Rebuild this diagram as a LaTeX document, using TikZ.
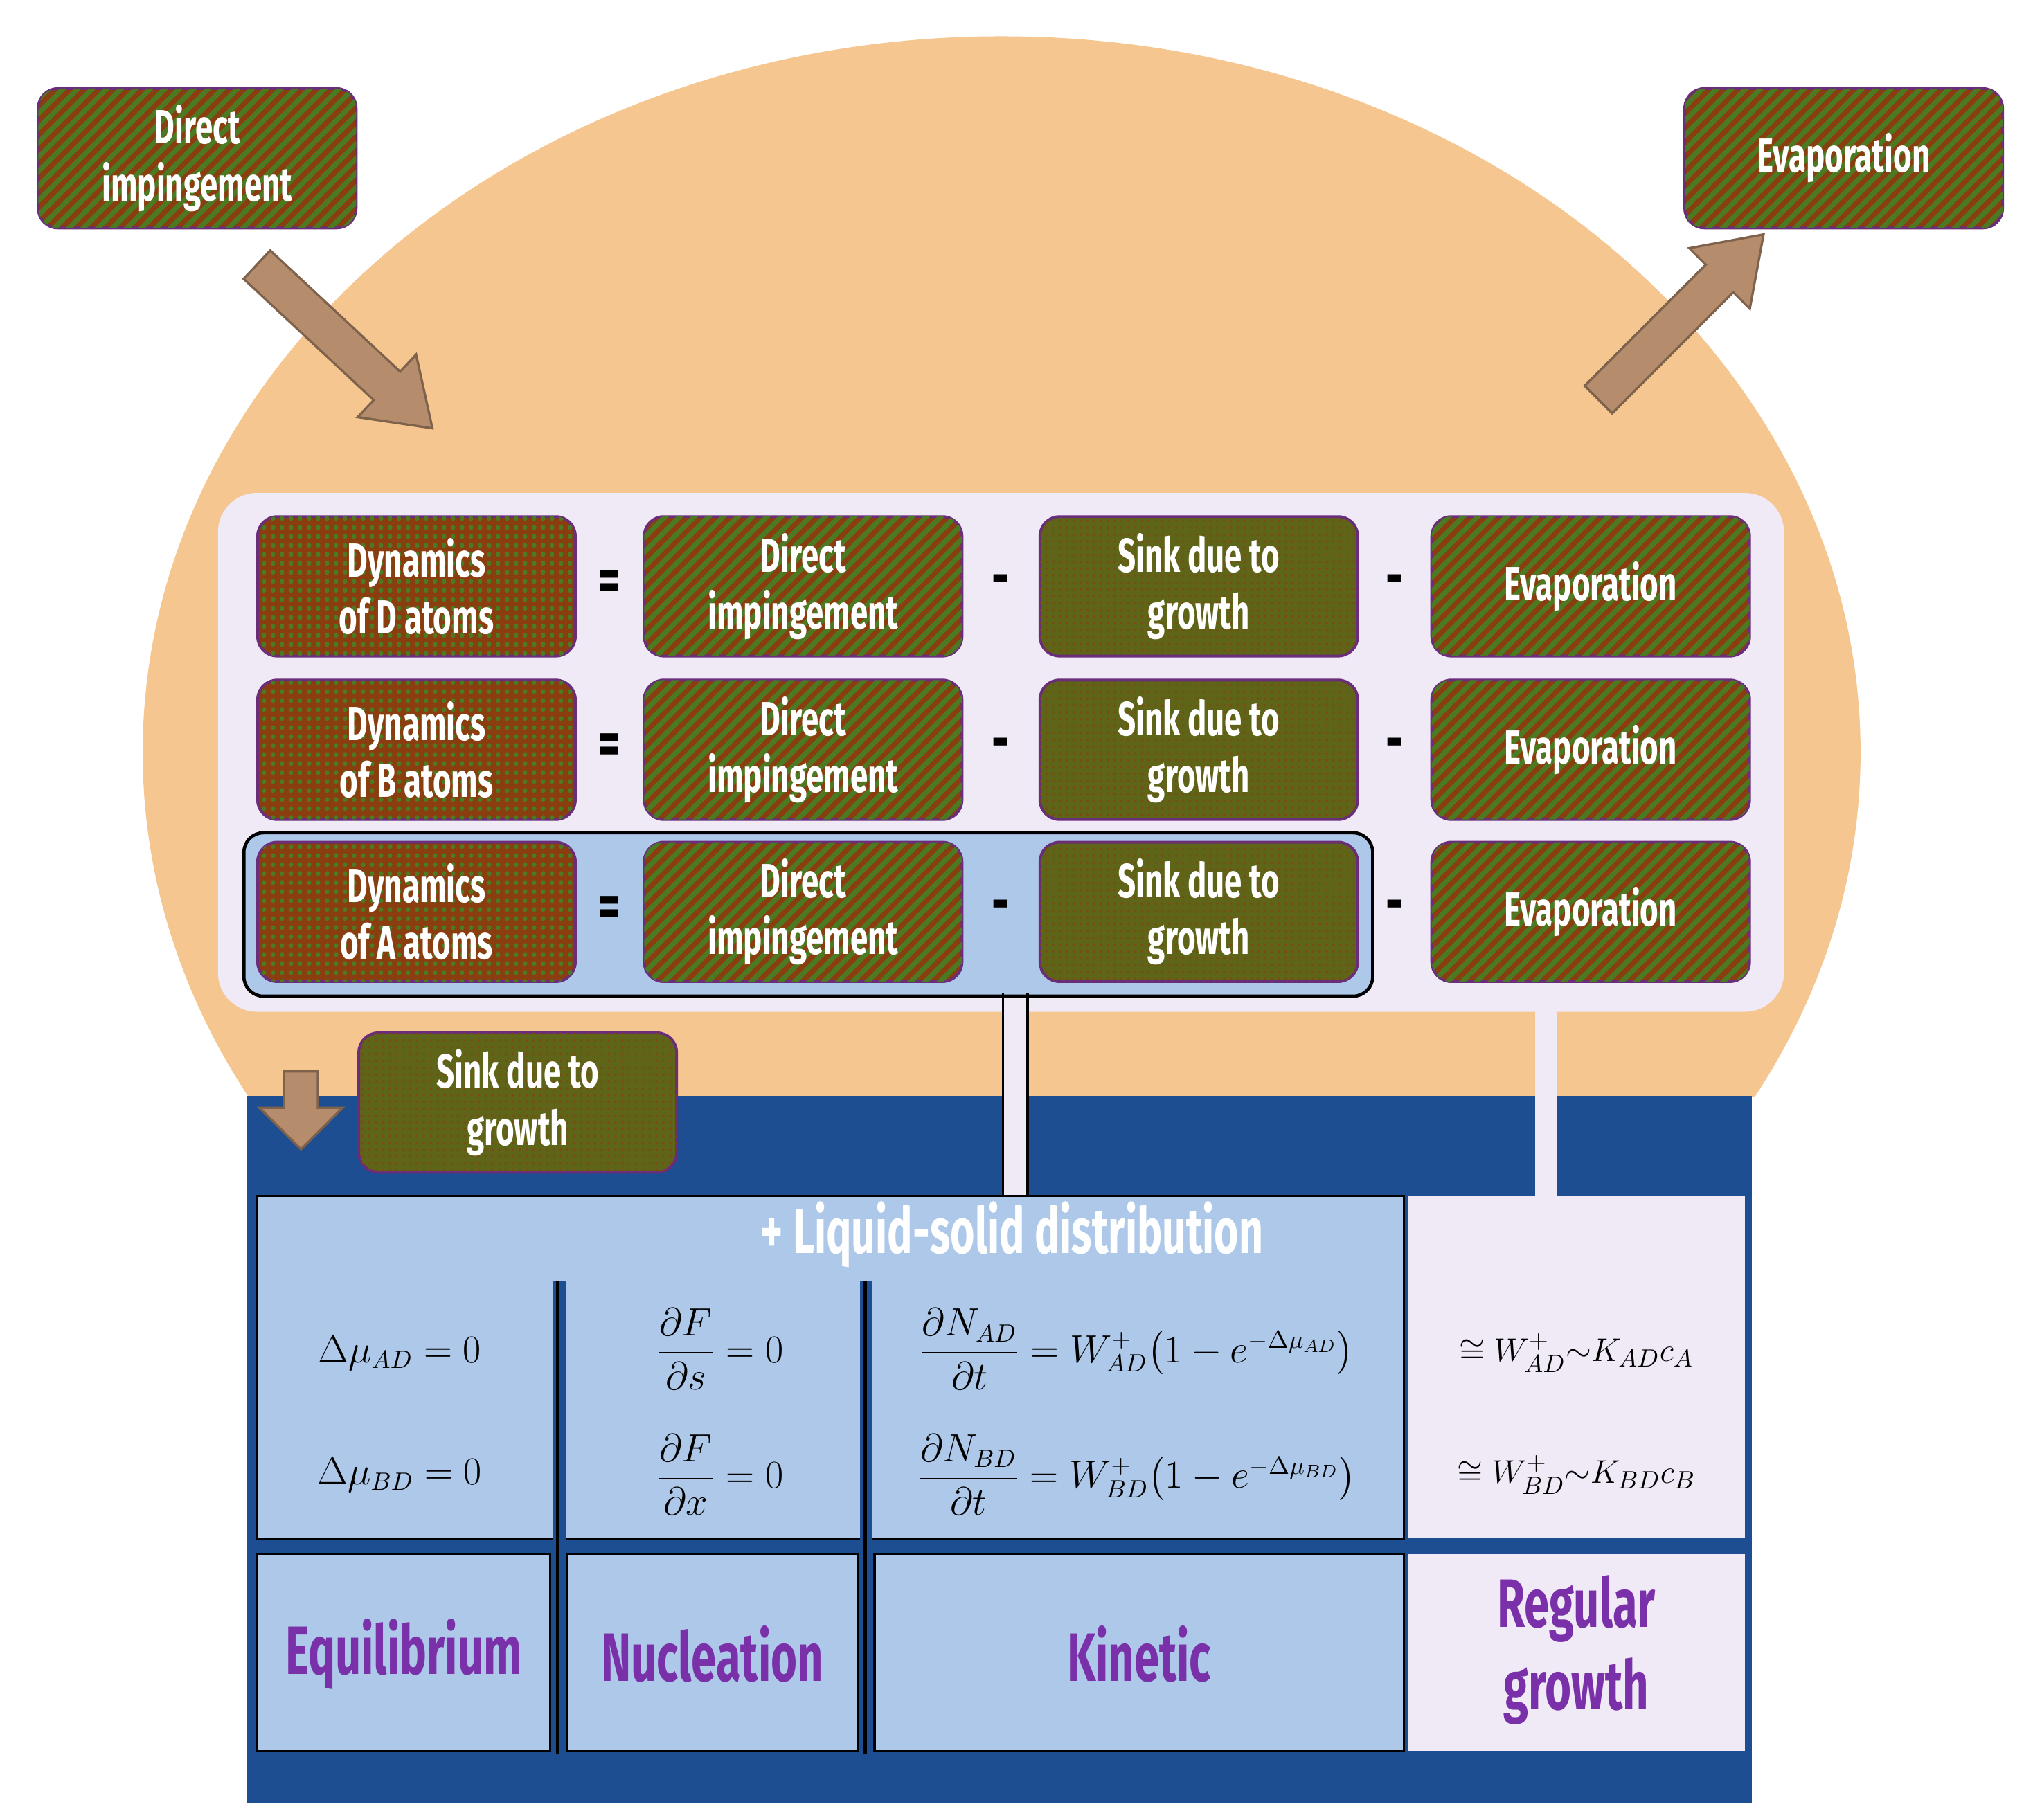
\documentclass[tikz,border=0pt]{standalone}
\usepackage{fontspec}
\usepackage{amsmath,amssymb}
\newfontfamily\cond{Fira Sans}[FakeStretch=0.66]
\usetikzlibrary{patterns.meta}
\definecolor{orng}{HTML}{F5C690}
\definecolor{lav}{HTML}{F0E9F6}
\definecolor{lblue}{HTML}{ADC8E8}
\definecolor{dblue}{HTML}{1D4E91}
\definecolor{brn}{HTML}{8A3E10}
\definecolor{grn}{HTML}{4C7A22}
\definecolor{olive}{HTML}{5E6518}
\definecolor{pur}{HTML}{6A2D7A}
\definecolor{tan}{HTML}{B58C6C}
\definecolor{txtpur}{HTML}{7A30A8}
\tikzset{
 bx/.style={rounded corners=0.3cm, draw=pur, line width=1.2pt, minimum width=4.9cm, minimum height=2.15cm, align=center, text=white, font=\cond\bfseries\fontsize{21}{25}\selectfont},
 hatch/.style={bx, fill=brn, postaction={pattern={Lines[angle=45,distance=4.5pt,line width=2.2pt]}, pattern color=grn}},
 dotty/.style={bx, fill=brn, postaction={pattern={Dots[distance=4pt,radius=1.1pt]}, pattern color=grn}},
 sinkb/.style={bx, fill=olive, postaction={pattern={Dots[distance=3pt,radius=0.6pt]}, pattern color=brn!70!olive}},
 op/.style={font=\cond\bfseries\fontsize{28}{30}\selectfont},
 bigarrow/.style={draw=tan!70!black, fill=tan, line width=1pt},
 lbl/.style={text=txtpur, font=\cond\bfseries\fontsize{30}{36}\selectfont, align=center},
 eq/.style={font=\fontsize{16}{19}\selectfont}
}
\begin{document}
\begin{tikzpicture}[x=0.02cm,y=-0.02cm]
\useasboundingbox (0,0) rectangle (1560,1403);
\fill[white] (0,0) rectangle (1560,1403);
\begin{scope}
\clip (0,0) rectangle (1560,845);
\fill[orng] (772,580) ellipse [x radius=662, y radius=552];
\end{scope}
\fill[dblue] (190,845) rectangle (1350,1390);
\fill[lav, rounded corners=0.6cm] (168,380) rectangle (1375,780);
\draw[black, fill=lblue, line width=1.4pt, rounded corners=0.3cm] (188,642) rectangle (1058,768);
\fill[lav] (1183,778) rectangle (1200,924);
\fill[lav] (774,769) rectangle (791,921);
\draw[line width=1pt] (773,766) -- (773,922) (792,766) -- (792,922);
\fill[lblue] (198,922) rectangle (1082,1186);
\fill[lav] (1085,922) rectangle (1345,1186);
\draw[line width=1pt] (198,1186) -- (198,922) -- (1082,922) -- (1082,1186) -- cycle;
\fill[dblue] (426,988) rectangle (436,1352);
\fill[dblue] (663,988) rectangle (672,1352);
\draw[line width=1.5pt] (430,988) -- (430,1352) (667,988) -- (667,1352);
\fill[lblue] (198,1198) rectangle (424,1350);
\fill[lblue] (437,1198) rectangle (661,1350);
\fill[lblue] (674,1198) rectangle (1082,1350);
\fill[lav] (1085,1198) rectangle (1345,1350);
\draw[line width=1pt] (198,1198) rectangle (424,1350) (437,1198) rectangle (661,1350) (674,1198) rectangle (1082,1350);
\node[text=white, font=\cond\bfseries\fontsize{28}{30}\selectfont] (hdr) at (780,952) {+ Liquid-solid distribution};
\node[eq] (e1) at (308,1043) {$\Delta\mu_{AD}=0$};
\node[eq] (e2) at (308,1137) {$\Delta\mu_{BD}=0$};
\node[eq] (e3) at (555,1040) {$\dfrac{\partial F}{\partial s}=0$};
\node[eq] (e4) at (555,1137) {$\dfrac{\partial F}{\partial x}=0$};
\node[eq] (e5) at (876,1040) {$\dfrac{\partial N_{AD}}{\partial t}=W_{AD}^{+}\bigl(1-e^{-\Delta\mu_{AD}}\bigr)$};
\node[eq] (e6) at (876,1137) {$\dfrac{\partial N_{BD}}{\partial t}=W_{BD}^{+}\bigl(1-e^{-\Delta\mu_{BD}}\bigr)$};
\node[eq, font=\fontsize{15}{18}\selectfont] (e7) at (1215,1043) {$\cong W_{AD}^{+}{\sim}K_{AD}c_A$};
\node[eq, font=\fontsize{15}{18}\selectfont] (e8) at (1215,1137) {$\cong W_{BD}^{+}{\sim}K_{BD}c_B$};
\node[lbl] (l1) at (311,1275) {Equilibrium};
\node[lbl] (l2) at (549,1275) {Nucleation};
\node[lbl] (l3) at (878,1275) {Kinetic};
\node[lbl] (l4) at (1215,1272) {Regular\\growth};
\foreach \r/\y/\L in {d/452/D, b/578/B, a/703/A}{
 \node[dotty] (dyn\r) at (321,\y) {Dynamics\\of \L{} atoms};
 \node[hatch] (di\r) at (619,\y) {Direct\\impingement};
 \node[sinkb] (sk\r) at (924,\y) {Sink due to\\growth};
 \node[hatch] (ev\r) at (1226,\y) {Evaporation};
 \node[op] (eq\r) at (470,\y) {=};
 \node[op] (m1\r) at (771,\y) {-};
 \node[op] (m2\r) at (1075,\y) {-};
}
\node[hatch] (tdi) at (152,122) {Direct\\impingement};
\node[hatch] (tev) at (1421,122) {Evaporation};
\node[sinkb] (bsk) at (399,850) {Sink due to\\growth};
% arrows: polygon along +x, then rotated
\def\bigarr#1#2#3#4#5{% x,y,angle,length,shaft half
 \begin{scope}[shift={(#1,#2)}, rotate=#3]
 \draw[bigarrow] (0,-#5) -- (#4-48,-#5) -- (#4-48,-2.2*#5) -- (#4,0) -- (#4-48,2.2*#5) -- (#4-48,#5) -- (0,#5) -- cycle;
 \end{scope}}
\bigarr{198}{204}{-43}{185}{15}
\bigarr{1232}{308}{45}{180}{15}
\draw[bigarrow] (219,826) -- (245,826) -- (245,854) -- (264,854) -- (232,886) -- (200,854) -- (219,854) -- cycle;
\end{tikzpicture}
\end{document}
